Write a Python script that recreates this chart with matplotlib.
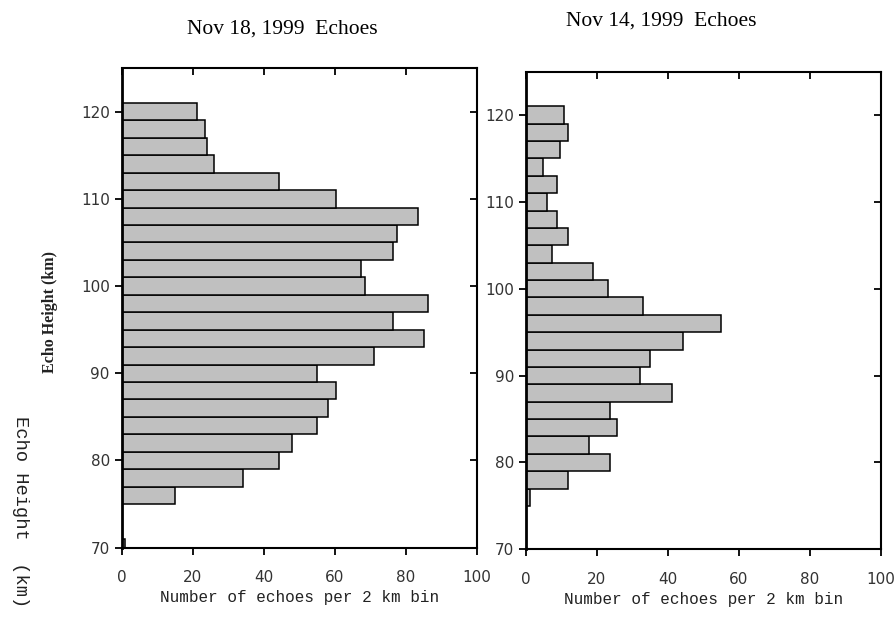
import matplotlib
matplotlib.use("Agg")
import matplotlib.pyplot as plt
import numpy as np

# Bin centres (km), 2 km bins
heights = [70, 72, 74, 76, 78, 80, 82, 84, 86, 88, 90, 92, 94, 96, 98,
           100, 102, 104, 106, 108, 110, 112, 114, 116, 118, 120]

# Nov 18, 1999 echo counts per bin
counts_nov18 = [1, 0, 0, 15, 34.2, 44.3, 48.1, 54.9, 58.2, 60.4, 54.9, 71.0, 85.1, 76.4, 86.2,
                68.5, 67.3, 76.3, 77.5, 83.4, 60.4, 44.3, 26.1, 23.9, 23.5, 21.2]

# Nov 14, 1999 echo counts per bin
counts_nov14 = [0, 0, 0, 1.1, 11.9, 23.8, 17.8, 25.8, 23.8, 41.1, 32.3, 35.1, 44.2, 54.9, 33.0,
                23.3, 19.0, 7.5, 12.0, 8.8, 6.0, 8.8, 4.9, 9.7, 12.0, 10.8]

xticks = [0, 20, 40, 60, 80, 100]
yticks = [70, 80, 90, 100, 110, 120]

titles = ["Nov 18, 1999  Echoes", "Nov 14, 1999  Echoes"]
xlabels = ["Number of echoes per 2 km bin", "Number of echoes per 2 km bin"]
ylabel = "Echo Height (km)"

fig = plt.figure(figsize=(8.96, 6.32), dpi=100)
ax1 = fig.add_axes([0.1358, 0.1334, 0.3962, 0.759])
ax2 = fig.add_axes([0.5867, 0.1308, 0.3962, 0.756])

for ax, counts, title, xl, tx, ty in [(ax1, counts_nov18, titles[0], xlabels[0], 0.3147, 0.954),
                                       (ax2, counts_nov14, titles[1], xlabels[1], 0.7377, 0.967)]:
    ax.barh(heights, counts, height=2, color="#c0c0c0", edgecolor="black", linewidth=1.1)
    ax.set_xlim(0, 100)
    ax.set_ylim(70, 125)
    ax.set_xticks(xticks)
    ax.set_yticks(yticks)
    ax.tick_params(axis="both", which="both", direction="out", length=5, width=1.3,
                   labelsize=11, labelcolor="#333333", color="black")
    ax.tick_params(axis="x", pad=11)
    # inward ticks on top and right without labels
    sec_x = ax.secondary_xaxis("top")
    sec_x.set_xticks(xticks)
    sec_x.tick_params(direction="in", length=5, width=1.3, labeltop=False)
    sec_y = ax.secondary_yaxis("right")
    sec_y.set_yticks(yticks)
    sec_y.tick_params(direction="in", length=5, width=1.3, labelright=False)
    for s in sec_x.spines.values():
        s.set_visible(False)
    for s in sec_y.spines.values():
        s.set_visible(False)
    for s in ax.spines.values():
        s.set_linewidth(1.5)
    ax.spines["left"].set_linewidth(2.0)
    ax.set_xlabel(xl, family="Liberation Mono", fontsize=11.5, labelpad=4, color="#222222")
    fig.text(tx, ty, title, family="Liberation Serif", fontsize=15.5,
             ha="center", va="center")

fig.text(0.023, 0.191, "Echo Height  (km)", family="Liberation Mono", fontsize=13.5,
         rotation=270, ha="center", va="center", color="#222222")
fig.text(0.056, 0.506, ylabel, family="Liberation Serif", fontsize=11.5, fontweight="bold",
         rotation=90, ha="center", va="center", color="#222222")

fig.savefig("out.png", dpi=100)
